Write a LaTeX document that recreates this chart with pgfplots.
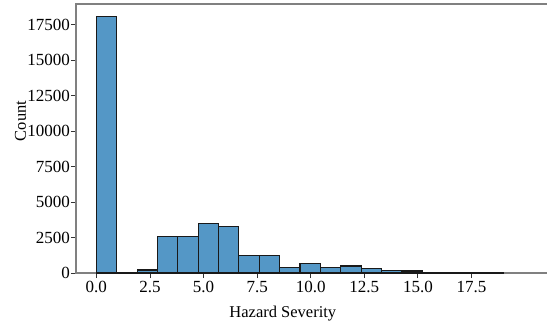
\documentclass[border=0pt]{standalone}
\usepackage{fontspec}
\setmainfont{Liberation Serif}
\usepackage{pgfplots}
\pgfplotsset{compat=1.18}
\definecolor{barblue}{RGB}{84,151,198}
\definecolor{spinegray}{RGB}{128,128,128}
\begin{document}
\begin{tikzpicture}
\begin{axis}[
  scale only axis,
  width=481bp, height=269bp,
  at={(0,0)}, anchor=south west,
  xmin=-0.95, xmax=21.49,
  ymin=0, ymax=18952,
  axis line style={spinegray, line width=1.2bp},
  xtick={0,2.5,...,17.5},
  ytick={0,2500,5000,7500,10000,12500,15000,17500},
  xtick pos=left, ytick pos=left,
  tick align=outside,
  major tick length=5bp,
  tick style={black!80, line width=0.8bp},
  /pgf/number format/assume math mode=true,
  xticklabel style={/pgf/number format/fixed, /pgf/number format/fixed zerofill, /pgf/number format/precision=1},
  yticklabel style={/pgf/number format/fixed, /pgf/number format/set thousands separator={}, inner xsep=1bp},
  scaled y ticks=false,
  tick label style={font=\fontsize{17bp}{20bp}\selectfont},
  label style={font=\fontsize{16.5bp}{19bp}\selectfont},
  xlabel={Hazard Severity},
  ylabel={Count},
  xlabel style={at={(axis description cs:0.430,-0.167)}, anchor=base},
  ylabel style={at={(axis description cs:-0.104,0.565)}, anchor=base},
]
\addplot[ybar interval, fill=barblue, draw=black!90, line width=1.1bp] coordinates {
(0,18050) (0.95,0) (1.9,210) (2.85,2540) (3.8,2540) (4.75,3480) (5.7,3265)
(6.65,1245) (7.6,1235) (8.55,400) (9.5,660) (10.45,375) (11.4,490)
(12.35,330) (13.3,165) (14.25,140) (15.2,35) (16.15,22) (17.1,15) (18.05,10) (19.0,0)
};
\end{axis}
\pgfresetboundingbox
\useasboundingbox (-76bp,-55bp) rectangle (471bp,273bp);
\end{tikzpicture}
\end{document}
